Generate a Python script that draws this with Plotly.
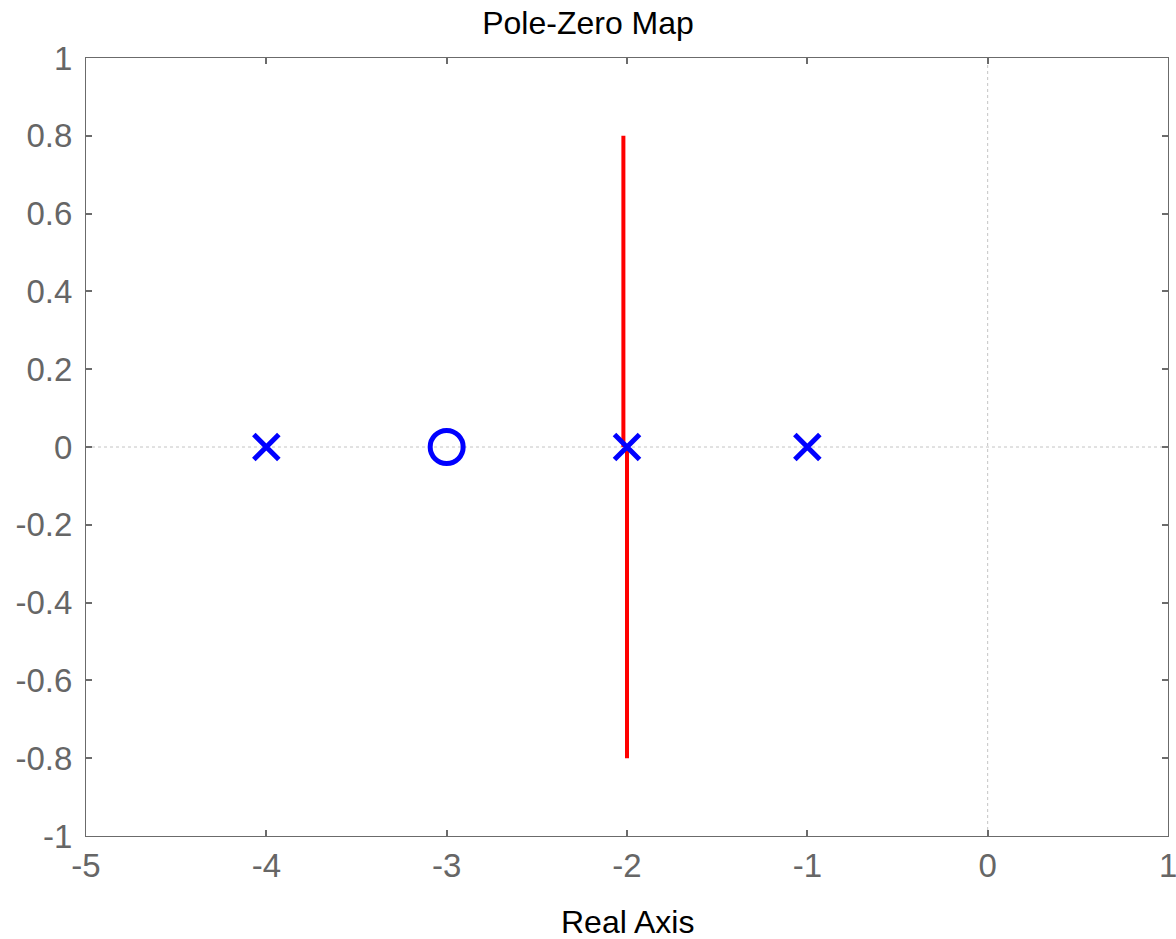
import plotly.graph_objects as go

pole_x = [-4, -2, -1]
pole_y = [0, 0, 0]
zero_x = [-3]
zero_y = [0]
locus_upper_x = [-2.02, -2.02]
locus_upper_y = [0.8, 0.0]
locus_lower_x = [-2.0, -2.0]
locus_lower_y = [0.0, -0.8]
x_ticks = [-5, -4, -3, -2, -1, 0, 1]
y_ticks = [-1, -0.8, -0.6, -0.4, -0.2, 0, 0.2, 0.4, 0.6, 0.8, 1]
y_tick_labels = ["-1", "-0.8", "-0.6", "-0.4", "-0.2", "0", "0.2", "0.4", "0.6", "0.8", "1"]

tick_font = dict(family="Liberation Sans, Arial", size=33, color="#666666")

fig = go.Figure()
# zero reference lines
fig.add_trace(go.Scatter(x=[-5, 1], y=[0, 0], mode="lines",
                         line=dict(color="#c4c4c4", width=1, dash="dot"),
                         hoverinfo="skip", showlegend=False))
fig.add_trace(go.Scatter(x=[0, 0], y=[-1, 1], mode="lines",
                         line=dict(color="#c4c4c4", width=1, dash="dot"),
                         hoverinfo="skip", showlegend=False))
# red locus line
fig.add_trace(go.Scatter(x=locus_upper_x, y=locus_upper_y, mode="lines",
                         line=dict(color="#ff0000", width=4), showlegend=False))
fig.add_trace(go.Scatter(x=locus_lower_x, y=locus_lower_y, mode="lines",
                         line=dict(color="#ff0000", width=4), showlegend=False))
# zeros
fig.add_trace(go.Scatter(x=zero_x, y=zero_y, mode="markers",
                         marker=dict(symbol="circle-open", size=33, color="#0000ff",
                                     line=dict(width=5, color="#0000ff")),
                         showlegend=False))
# poles
fig.add_trace(go.Scatter(x=pole_x, y=pole_y, mode="markers",
                         marker=dict(symbol="x-thin-open", size=25, color="#0000ff",
                                     line=dict(width=5, color="#0000ff")),
                         showlegend=False))

axis_common = dict(showgrid=False, zeroline=False, showline=True, linecolor="#6b6b6b",
                   linewidth=1, mirror="ticks", ticks="inside", ticklen=6,
                   tickcolor="#6b6b6b", tickwidth=2, automargin=False,
                   tickfont=tick_font)

# the last x tick label sits on the page edge; draw it as text so it is not dropped
edge_label = x_ticks[-1]

fig.update_layout(
    width=1176, height=939,
    margin=dict(l=86, r=8, t=58, b=103),
    paper_bgcolor="white", plot_bgcolor="white",
    title=dict(text="Pole-Zero Map", x=0.5, xanchor="center", y=0.976, yanchor="middle",
               font=dict(family="Liberation Sans, Arial", size=32, color="#000000")),
    xaxis=dict(range=[-5, 1], tickvals=x_ticks, ticktext=[str(v) for v in x_ticks],
               **axis_common),
    yaxis=dict(range=[-1, 1], tickvals=y_ticks, ticktext=y_tick_labels,
               ticklabelstandoff=6, **axis_common),
    annotations=[
        dict(text="Real Axis", x=0.5, xref="paper", y=-0.1105, yref="paper",
             xanchor="center", yanchor="middle", showarrow=False,
             font=dict(family="Liberation Sans, Arial", size=32, color="#000000")),
        dict(text=str(edge_label), x=edge_label, xref="x", y=-0.0385, yref="paper",
             xanchor="center", yanchor="middle", showarrow=False, font=tick_font),
    ],
)

fig.write_html("out.html")
